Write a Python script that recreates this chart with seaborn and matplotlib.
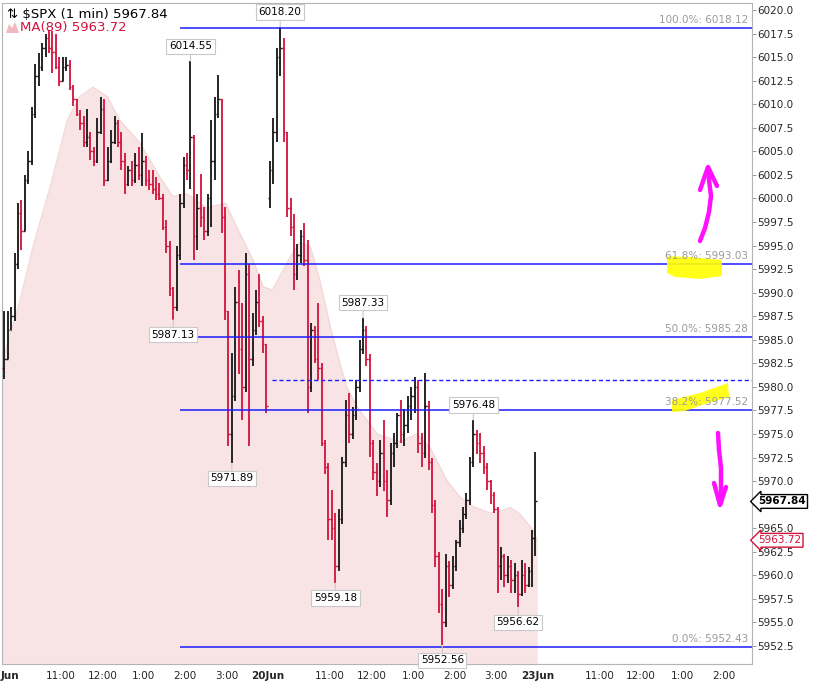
import numpy as np
import pandas as pd
import seaborn as sns
import matplotlib.pyplot as plt
from matplotlib.patches import Polygon
import matplotlib.transforms as mtransforms

sns.set_style("white")
plt.rcParams['font.family'] = ['DejaVu Sans']

# ---- data (5-minute slots) ----
# 18 Jun session, 9:30 -> 16:00
d1_high = [5985.5, 5988.0, 5988.0, 5988.5, 5994.2, 5999.5, 5999.8, 6002.5, 6005.0, 6009.7,
           6014.3, 6015.4, 6016.5, 6017.5, 6017.9, 6017.8, 6017.5, 6015.0, 6015.0, 6015.0,
           6014.7, 6012.0, 6010.5, 6009.4, 6008.7, 6009.5, 6007.0, 6005.5, 6008.5, 6010.8,
           6010.5, 6005.5, 6007.3, 6008.7, 6008.3, 6007.0, 6004.8, 6003.4, 6004.0, 6004.8,
           6005.5, 6006.9, 6004.5, 6003.0, 6003.0, 6002.3, 6001.6, 6000.5, 5997.7, 5995.5,
           5990.6, 5994.9, 6000.5, 6004.4, 6004.8, 6014.55, 6006.7, 6000.5, 6002.6, 5999.1,
           6000.5, 6008.3, 6010.8, 6013.1, 6010.5, 5999.1, 5988.0, 5983.6, 5990.6, 5992.4,
           5988.9, 5994.2, 5993.0, 5987.8, 5990.3, 5992.0, 5987.5, 5984.5]
d1_low = [5981.0, 5980.8, 5983.0, 5986.0, 5987.0, 5992.5, 5994.5, 5996.5, 6001.5, 6003.5,
          6008.5, 6011.9, 6013.5, 6015.0, 6015.4, 6013.3, 6013.7, 6011.9, 6012.5, 6013.5,
          6011.5, 6009.8, 6008.7, 6007.3, 6005.5, 6005.5, 6004.1, 6003.4, 6003.8, 6006.8,
          6001.3, 6001.8, 6003.8, 6005.8, 6005.5, 6003.0, 6000.5, 6001.3, 6001.3, 6001.6,
          6002.0, 6001.3, 6001.3, 6000.9, 6000.5, 5999.8, 5999.8, 5996.6, 5994.2, 5989.6,
          5987.13, 5988.0, 5993.5, 5999.0, 6002.0, 6001.0, 5993.5, 5994.5, 5997.0, 5995.6,
          5996.0, 5997.0, 6002.0, 6008.5, 5996.3, 5987.1, 5973.7, 5971.89, 5978.5, 5981.4,
          5976.5, 5979.5, 5973.7, 5982.2, 5985.5, 5986.4, 5983.6, 5977.2]
d1_close = [5982.0, 5983.0, 5986.0, 5987.5, 5993.0, 5998.5, 5996.5, 6002.0, 6004.0, 6009.0,
            6013.0, 6014.0, 6016.0, 6017.0, 6016.0, 6015.5, 6014.0, 6012.5, 6014.0, 6014.2,
            6011.8, 6010.5, 6009.0, 6008.0, 6006.0, 6006.5, 6005.0, 6004.0, 6007.0, 6009.5,
            6002.0, 6004.0, 6006.0, 6008.0, 6006.0, 6004.0, 6001.5, 6003.0, 6002.0, 6003.5,
            6002.5, 6004.0, 6002.0, 6001.5, 6001.0, 6000.5, 6000.0, 5997.0, 5995.0, 5990.5,
            5988.5, 5994.0, 5999.5, 6003.5, 6003.0, 6006.5, 5996.0, 5999.0, 5998.0, 5996.5,
            6000.0, 6004.0, 6009.0, 6010.5, 5998.0, 5988.0, 5975.0, 5979.0, 5989.0, 5984.0,
            5980.0, 5992.0, 5983.0, 5986.0, 5989.0, 5987.0, 5984.5, 5978.0]

# 20 Jun session
d2_high = [6004.0, 6008.5, 6016.0, 6018.2, 6017.0, 6007.0, 6000.0, 5998.4, 5995.2, 5996.7,
           5997.4, 5995.6, 5986.8, 5986.5, 5988.9, 5982.5, 5974.4, 5971.9, 5969.1, 5966.6,
           5967.0, 5972.6, 5978.6, 5979.3, 5977.9, 5980.7, 5985.0, 5987.33, 5986.5, 5983.5,
           5974.4, 5971.9, 5974.4, 5976.5, 5971.2, 5974.0, 5975.1, 5977.2, 5978.6, 5977.6,
           5979.0, 5980.0, 5981.1, 5980.7, 5975.1, 5981.5, 5978.5, 5972.5, 5968.0, 5962.5,
           5958.5, 5962.3, 5961.5, 5962.0, 5963.8, 5965.9, 5967.3, 5968.7, 5972.6, 5976.48,
           5975.4, 5975.1, 5973.7, 5971.9, 5970.1, 5968.8, 5967.3, 5963.0, 5962.3, 5962.0,
           5961.6, 5961.3, 5960.5, 5961.6, 5961.3, 5960.9, 5964.8, 5973.1]
d2_low = [5999.0, 6001.5, 6006.0, 6013.0, 6006.0, 5998.0, 5996.0, 5990.3, 5991.3, 5993.1,
          5992.8, 5977.2, 5979.5, 5982.5, 5980.7, 5973.7, 5970.8, 5963.8, 5963.8, 5959.18,
          5960.5, 5965.5, 5971.5, 5974.0, 5974.5, 5976.5, 5979.5, 5983.5, 5982.2, 5972.6,
          5970.1, 5968.4, 5969.4, 5969.0, 5966.2, 5967.5, 5971.5, 5973.5, 5974.0, 5973.7,
          5975.1, 5976.5, 5977.2, 5973.0, 5971.5, 5972.5, 5971.2, 5966.6, 5960.9, 5956.0,
          5952.56, 5954.5, 5957.7, 5958.5, 5960.5, 5963.0, 5964.5, 5966.0, 5967.5, 5971.5,
          5972.9, 5971.9, 5970.8, 5969.1, 5967.6, 5966.6, 5958.1, 5959.5, 5958.8, 5959.2,
          5958.1, 5958.1, 5956.62, 5957.8, 5958.1, 5958.8, 5958.8, 5962.0]
d2_close = [6003.0, 6007.0, 6015.0, 6016.0, 6007.0, 5999.0, 5997.0, 5992.0, 5994.0, 5996.0,
            5993.5, 5980.0, 5986.0, 5983.0, 5982.0, 5974.0, 5971.5, 5966.0, 5965.0, 5961.0,
            5966.0, 5972.0, 5977.0, 5975.0, 5977.0, 5980.0, 5984.0, 5986.0, 5983.0, 5974.0,
            5971.0, 5970.0, 5973.0, 5970.0, 5968.0, 5973.0, 5974.0, 5977.0, 5975.0, 5976.0,
            5978.0, 5979.0, 5980.0, 5974.0, 5973.0, 5978.0, 5972.0, 5967.5, 5962.0, 5957.0,
            5955.0, 5961.0, 5959.0, 5961.0, 5963.5, 5965.0, 5966.5, 5968.0, 5972.0, 5975.0,
            5974.0, 5973.0, 5971.5, 5970.0, 5968.5, 5967.0, 5961.0, 5962.0, 5960.0, 5961.0,
            5959.5, 5960.0, 5958.0, 5960.0, 5959.0, 5960.5, 5964.0, 5967.84]
day_open = [5984.0, 6000.0]

# MA(89) outline, session-minute index -> value
ma_t = [4, 30, 49, 74, 99, 117, 136, 157, 175, 204, 233, 252, 272, 301, 328, 349, 368, 383,
        396, 407, 422, 436, 451, 465, 480, 494, 504, 519, 533, 548, 567, 581, 606, 625, 649,
        668, 687, 712, 726, 741, 755, 774, 780]
ma_v = [5982.5, 5989.0, 5994.8, 6001.2, 6008.3, 6010.8, 6011.8, 6010.8, 6008.3, 6005.9,
        6002.3, 6000.2, 6000.5, 5999.0, 5999.5, 5996.3, 5993.5, 5990.6, 5990.3, 5991.7,
        5993.8, 5995.3, 5994.9, 5991.3, 5986.4, 5982.5, 5980.0, 5977.9, 5976.5, 5975.0,
        5974.5, 5974.2, 5975.0, 5973.5, 5970.1, 5968.3, 5967.3, 5966.6, 5966.8, 5967.2,
        5966.5, 5964.8, 5963.72]

fib_pct = ['100.0%', '61.8%', '50.0%', '38.2%', '0.0%']
fib_lvl = [6018.12, 5993.03, 5985.28, 5977.52, 5952.43]
fib_start = 262          # session minute where the retracement was drawn from
mid_dash = 5980.73
dash_start = 396

callouts = [(6018.20, 'high'), (6014.55, 'high'), (5987.13, 'low'), (5971.89, 'low'),
            (5959.18, 'low'), (5987.33, 'high'), (5976.48, 'high'), (5952.56, 'low'),
            (5956.62, 'low')]

tick_pos = [90, 150, 210, 270, 330, 390, 480, 540, 600, 660, 720, 780, 870, 930, 990, 1050]
tick_lab = ['11:00', '12:00', '1:00', '2:00', '3:00', '20Jun', '11:00', '12:00', '1:00',
            '2:00', '3:00', '23Jun', '11:00', '12:00', '1:00', '2:00']

last_px = 5967.84
last_ma = 5963.72

# ---- build bars ----
bars = pd.DataFrame({
    'day': [0] * len(d1_close) + [1] * len(d2_close),
    'slot': list(range(len(d1_close))) + list(range(len(d2_close))),
    'high': d1_high + d2_high,
    'low': d1_low + d2_low,
    'close': d1_close + d2_close,
})
bars['t'] = bars['day'] * 390 + bars['slot'] * 5 + 2.5
bars['open'] = bars['close'].shift(1)
bars.loc[bars['slot'] == 0, 'open'] = day_open
bars['hi'] = bars[['high', 'open', 'close']].max(axis=1)
bars['lo'] = bars[['low', 'open', 'close']].min(axis=1)
up = bars['close'] >= bars['open']

RED = '#d3123b'
BLK = '#151515'
BLUE = '#1c1cff'

fig = plt.figure(figsize=(8.2, 6.86), dpi=100)
ax = fig.add_axes([2 / 820, 22 / 686, 750 / 820, 661 / 686])
y0, y1 = 5950.59, 6020.74
ax.set_xlim(4.35, 1091.3)
ax.set_ylim(y0, y1)

# MA(89) area
ax.fill_between(ma_t, y0, ma_v, color='#f8e4e4', lw=0, zorder=0)
sns.lineplot(x=ma_t, y=ma_v, ax=ax, color='#f3d6d6', lw=0.9, zorder=1)

# OHLC bars
for mask, col in [(up, BLK), (~up, RED)]:
    b = bars[mask]
    ax.vlines(b['t'], b['lo'], b['hi'], colors=col, lw=1.3, zorder=3)
    ax.hlines(b['open'], b['t'] - 2.2, b['t'], colors=col, lw=1.0, zorder=3)
    ax.hlines(b['close'], b['t'], b['t'] + 2.2, colors=col, lw=1.0, zorder=3)

# fibonacci levels
ax.hlines(fib_lvl, fib_start, 1091.3, colors=BLUE, lw=1.1, zorder=4)
ax.hlines(mid_dash, dash_start, 1091.3, colors=BLUE, lw=1.0, linestyles=(0, (3, 2)), zorder=4)
for pct, lv in zip(fib_pct, fib_lvl):
    ax.annotate(f'{pct}: {lv:.2f}', xy=(1085.5, lv), xytext=(0, 3), textcoords='offset pixels',
                ha='right', va='bottom', fontsize=7.5, color='#9a9a9a', zorder=6)

# high / low callouts
for val, kind in callouts:
    col = 'high' if kind == 'high' else 'low'
    t = bars.loc[(bars[col] - val).abs().idxmin(), 't']
    off = 10 if kind == 'high' else -10
    ax.annotate(f'{val:.2f}', xy=(t, val), xytext=(0, off), textcoords='offset pixels',
                ha='center', va='bottom' if kind == 'high' else 'top', fontsize=7.5,
                color='black', zorder=7,
                bbox=dict(boxstyle='square,pad=0.25', fc='white', ec='#c9c9c9', lw=0.8),
                arrowprops=dict(arrowstyle='-', color='#c9c9c9', lw=0.8, shrinkA=0, shrinkB=0))

# axes styling
for s in ['left', 'top', 'bottom', 'right']:
    ax.spines[s].set_color('#b4b4b4')
    ax.spines[s].set_linewidth(0.8)
ax.yaxis.tick_right()
yt = np.arange(5952.5, 6020.1, 2.5)
ax.set_yticks(yt)
ax.set_yticklabels([f'{v:.1f}' for v in yt])
ax.tick_params(axis='y', length=3, width=0.7, color='#999999', pad=1, labelsize=7.5)
ax.set_xticks(tick_pos)
ax.set_xticklabels(tick_lab)
ax.tick_params(axis='x', length=0, pad=5, labelsize=7.5)
for lab in ax.get_xticklabels():
    if 'Jun' in lab.get_text():
        lab.set_fontweight('bold')
fig.text(1 / 820, 1 - 676 / 686, 'Jun', ha='left', va='center', fontsize=7.5, fontweight='bold')

# right-side price badges (they sit on top of the 5967.5 / 5962.5 labels, as in the source)
tr = mtransforms.blended_transform_factory(ax.transAxes, ax.transData)
ax.text(1.008, last_px, f'{last_px:.2f}', transform=tr, ha='left', va='center', fontsize=7.5,
        fontweight='bold', color='black', zorder=8, clip_on=False,
        bbox=dict(boxstyle='larrow,pad=0.18', fc='white', ec='black', lw=1.0))
ax.text(1.008, last_ma, f'{last_ma:.2f}', transform=tr, ha='left', va='center', fontsize=7.5,
        color=RED, zorder=8, clip_on=False,
        bbox=dict(boxstyle='larrow,pad=0.18', fc='white', ec=RED, lw=1.0))
for lab, v in zip(ax.get_yticklabels(), yt):
    if abs(v - 5967.5) < 0.01:
        lab.set_visible(False)

# legend text top-left
fig.text(7 / 820, 1 - 15 / 686, '\u21c5 \\$SPX (1 min) 5967.84', ha='left', va='center',
         fontsize=9.5, color='black')
fig.text(20 / 820, 1 - 28 / 686, 'MA(89) 5963.72', ha='left', va='center', fontsize=9.5, color=RED)


def fpx(pts):
    return [(x / 820, 1 - y / 686) for x, y in pts]


fig.patches.append(Polygon(fpx([(6, 33), (9, 24), (12, 28), (15, 22), (19, 33)]),
                           closed=True, fc='#f2b8c0', ec='none', transform=fig.transFigure))

# hand-drawn marks: highlighter under the fib labels, arrows on top
hl1 = fpx([(667, 256), (690, 257), (722, 260), (722, 276), (700, 279), (675, 277), (667, 273)])
hl2 = fpx([(672, 400), (700, 393), (728, 383), (729, 397), (705, 404), (685, 411), (672, 412)])
for pts in (hl1, hl2):
    ax.add_patch(Polygon(pts, closed=True, fc='#ffff00', ec='none', alpha=0.9,
                         transform=fig.transFigure, zorder=5, clip_on=False))

MAG = '#ff10ff'
arrows = [
    [(700, 241), (705, 228), (709, 212), (711, 196), (709, 180), (708, 168)],
    [(700, 190), (708, 167), (717, 186)],
    [(718, 433), (719, 450), (721, 468), (721, 503)],
    [(714, 483), (720, 505), (726, 487)],
]
for pts in arrows:
    xs, ys = zip(*fpx(pts))
    fig.add_artist(plt.Line2D(xs, ys, color=MAG, lw=3.2, solid_capstyle='round',
                              solid_joinstyle='round', transform=fig.transFigure, zorder=11))

fig.savefig('out.png', dpi=100)
